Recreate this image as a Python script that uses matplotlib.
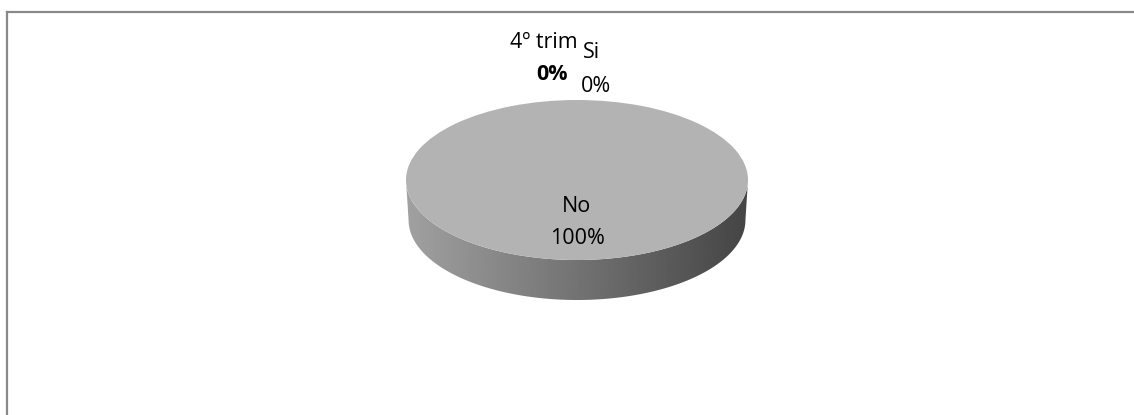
import numpy as np
import matplotlib
matplotlib.use("Agg")
import matplotlib.pyplot as plt
from matplotlib.patches import Polygon
from matplotlib.lines import Line2D

# datos
categorias = ["4º trim", "Si", "No"]
valores = [0, 0, 100]
colores = ["#b3b3b3", "#b3b3b3", "#b3b3b3"]

W, H = 1134, 415
cx, cy = 577, 180      # centro de la elipse (px)
a, b = 171, 80         # semiejes (px)
prof = 40              # grosor del cilindro (px)
r = b / a

plt.rcParams['font.family'] = ['Open Sans', 'DejaVu Sans']

fig = plt.figure(figsize=(W / 100, H / 100), dpi=100)
ax = fig.add_axes([0, 0, 1, 1])


def py(y_px):
    # pixel desde arriba -> coordenada de datos
    return (H - y_px) / r


ccy = py(cy)
R = a
d = prof / r

# tapa del pastel
wedges, _ = ax.pie(valores, colors=colores, center=(cx, ccy), radius=R,
                   startangle=90, counterclock=False,
                   wedgeprops=dict(linewidth=0))
for w in wedges:
    w.set_zorder(3)

# lateral (mitad frontal) con degradado, base un poco mas estrecha
t = np.linspace(np.pi, 2 * np.pi, 200)
top = np.column_stack([cx + R * np.cos(t), ccy + R * np.sin(t)])
bot = np.column_stack([cx + 0.985 * R * np.cos(t), ccy + R * np.sin(t) - d])
poly = Polygon(np.vstack([top, bot[::-1]]), closed=True,
               facecolor='none', edgecolor='none')
ax.add_patch(poly)
grad = np.linspace(0.63, 0.27, 256)
img = np.tile(grad, (2, 1))
im = ax.imshow(img, cmap='gray', vmin=0, vmax=1, aspect='auto',
               extent=[cx - R, cx + R, ccy - R - d, ccy], zorder=2,
               interpolation='bilinear')
im.set_clip_path(poly)

ax.set_aspect('auto')
ax.set_xlim(0, W)
ax.set_ylim(0, H / r)
ax.axis('off')

# etiquetas
tot = sum(valores)
pct = [f"{v / tot * 100:.0f}%" for v in valores]
fs = 15.5
ax.text(577, py(212), categorias[2], ha='center', va='baseline', fontsize=fs, zorder=5)
ax.text(577, py(244), pct[2], ha='center', va='baseline', fontsize=fs, zorder=5)
ax.text(544, py(48), categorias[0], ha='center', va='baseline', fontsize=fs, zorder=5)
ax.text(552, py(80), pct[0], ha='center', va='baseline', fontsize=fs,
        fontweight='bold', zorder=5)
ax.text(592, py(58), categorias[1], ha='center', va='baseline', fontsize=fs, zorder=5)
ax.text(596, py(92), pct[1], ha='center', va='baseline', fontsize=fs, zorder=5)

# borde del gráfico
fig.add_artist(Line2D([6.5 / W, 1], [1 - 12.5 / H] * 2, color='#898989', lw=1.6))
fig.add_artist(Line2D([6.5 / W] * 2, [0, 1 - 12.5 / H], color='#898989', lw=1.6))

fig.savefig("out.png", dpi=100)
